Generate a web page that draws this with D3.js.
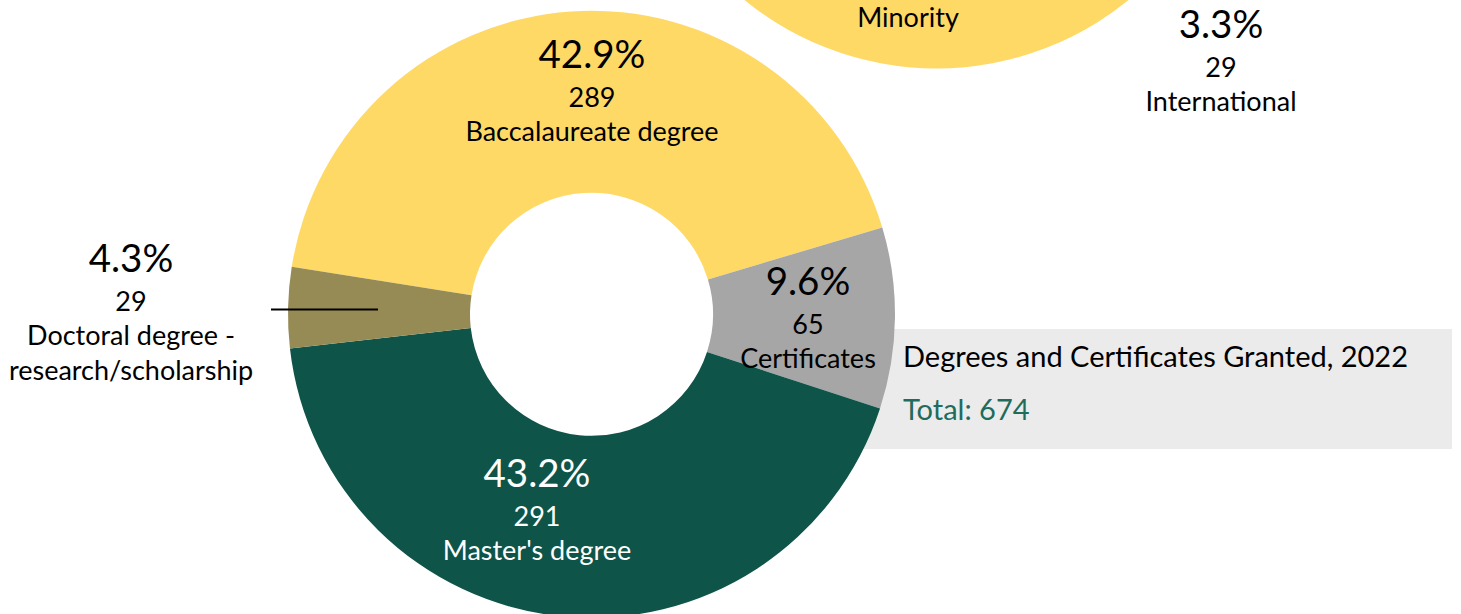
<!DOCTYPE html>
<html>
<head>
<meta charset="utf-8">
<script src="https://cdn.jsdelivr.net/npm/d3@7"></script>
<style>
  html, body { margin: 0; padding: 0; background: #fff; overflow: hidden; }
  svg { display: block; font-family: Lato, "Open Sans", sans-serif; }
</style>
</head>
<body>
<svg id="chart"></svg>
<script>
// degrees and certificates, 2022
const categories = ["Baccalaureate degree", "Certificates", "Master's degree", "Doctoral degree - research/scholarship"];
const counts = [289, 65, 291, 29];
const sliceColors = ["#FFD966", "#A6A6A6", "#0E5449", "#968B55"];
const labelColors = ["#000", "#000", "#fff", "#000"];

// neighbouring chart, only its bottom edge is in frame
const topCategories = ["Minority", "International"];
const topCounts = [null, 29];
const topPercents = [null, "3.3%"];

const title = "Degrees and Certificates Granted, 2022";

const width = 1461, height = 614;
const cx = 591.5, cy = 314.3;
const outerR = 303.5, innerR = 121.5;
const deg = Math.PI / 180;
const bigFont = "38.5px", smallFont = "27px", titleFont = "29px";

const svg = d3.select("#chart")
    .attr("width", width)
    .attr("height", height);

// title box sits behind the donut
svg.append("rect")
    .attr("x", 790).attr("y", 329)
    .attr("width", 1452 - 790).attr("height", 120)
    .attr("fill", "#EBEBEB");

const total = d3.sum(counts);
const pct = d3.format(".1%");

const pie = d3.pie()
    .sort(null)
    .startAngle(-81 * deg)
    .endAngle(279 * deg);

const arc = d3.arc()
    .innerRadius(innerR)
    .outerRadius(outerR);

const rows = categories.map(function(c, i) {
  return { name: c, value: counts[i], color: sliceColors[i], text: labelColors[i] };
});

const donut = svg.append("g")
    .attr("transform", "translate(" + cx + "," + cy + ")");

donut.selectAll("path")
    .data(pie.value(function(d) { return d.value; })(rows))
    .enter()
    .append("path")
    .attr("d", arc)
    .attr("fill", function(d) { return d.data.color; });

// top chart (cut off by the frame)
const topChart = svg.append("g")
    .attr("transform", "translate(936.5,-235)");
topChart.append("path")
    .attr("d", d3.arc().innerRadius(innerR).outerRadius(outerR)
      .startAngle(95 * deg).endAngle(265 * deg)())
    .attr("fill", "#FFD966");

// label anchors: baseline of the percentage line
const labelAnchors = [[592, 68], [808, 295], [537, 487], [131, 272]];
const lineGaps = [0, 39, 73, 108];

function lines(i) {
  let out = [pct(counts[i] / total), String(counts[i])];
  if (i === 3) {
    out.push("Doctoral degree -", "research/scholarship");
  } else {
    out.push(categories[i]);
  }
  return out;
}

const labels = svg.append("g");
categories.forEach(function(c, i) {
  let g = labels.append("g")
      .attr("transform", "translate(" + labelAnchors[i][0] + "," + labelAnchors[i][1] + ")")
      .attr("fill", labelColors[i])
      .attr("text-anchor", "middle");
  lines(i).forEach(function(t, j) {
    g.append("text")
        .attr("y", lineGaps[j])
        .style("font-size", j === 0 ? bigFont : smallFont)
        .text(t);
  });
});

// leader line for the doctoral slice
svg.append("line")
    .attr("x1", 271).attr("x2", 378)
    .attr("y1", 309.5).attr("y2", 309.5)
    .attr("stroke", "#000")
    .attr("stroke-width", 2.2);

// top chart labels
svg.append("text")
    .attr("x", 908).attr("y", 27)
    .attr("text-anchor", "middle")
    .style("font-size", smallFont)
    .text(topCategories[0]);

const intl = svg.append("g")
    .attr("transform", "translate(1221,38)")
    .attr("text-anchor", "middle");
[topPercents[1], String(topCounts[1]), topCategories[1]].forEach(function(t, j) {
  intl.append("text")
      .attr("y", lineGaps[j])
      .style("font-size", j === 0 ? bigFont : smallFont)
      .text(t);
});

// title
svg.append("text")
    .attr("x", 903).attr("y", 367)
    .style("font-size", titleFont)
    .attr("fill", "#000")
    .text(title);

svg.append("text")
    .attr("x", 903).attr("y", 420)
    .style("font-size", titleFont)
    .attr("fill", "#1F6B5D")
    .text("Total: " + total);
</script>
</body>
</html>
